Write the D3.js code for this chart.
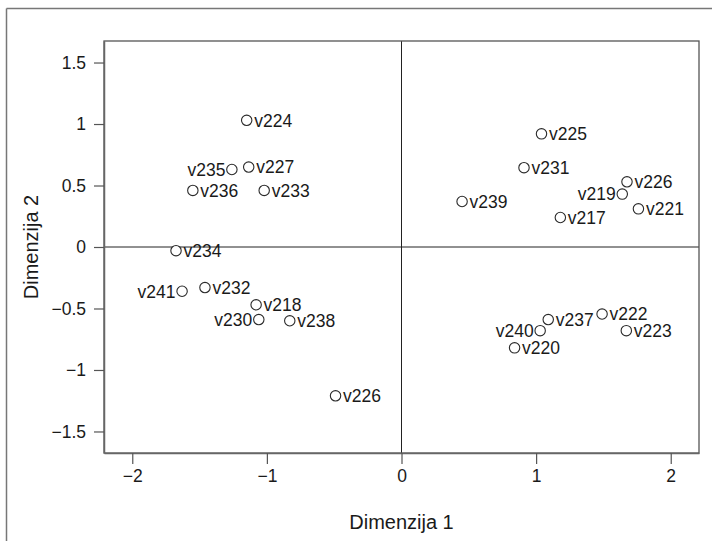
<!DOCTYPE html>
<html>
<head>
<meta charset="utf-8">
<script src="https://cdnjs.cloudflare.com/ajax/libs/d3/7.8.5/d3.min.js"></script>
<style>
  html, body { margin: 0; padding: 0; background: #fff; }
  svg { display: block; font-family: "Liberation Sans", Arial, Helvetica, sans-serif; }
</style>
</head>
<body>
<svg id="chart" width="712" height="541"></svg>
<script>
// Data
const labels = ["v224","v235","v227","v236","v233","v234","v241","v232","v218","v230","v238","v226",
                "v225","v231","v239","v219","v226","v221","v217","v240","v237","v220","v222","v223"];
const dim1 = [-1.15,-1.26,-1.135,-1.55,-1.02,-1.675,-1.63,-1.46,-1.08,-1.06,-0.83,-0.49,
              1.04,0.91,0.45,1.64,1.675,1.76,1.18,1.03,1.09,0.84,1.49,1.67];
const dim2 = [1.03,0.63,0.65,0.46,0.46,-0.03,-0.36,-0.33,-0.47,-0.59,-0.60,-1.21,
              0.92,0.645,0.37,0.43,0.53,0.31,0.24,-0.68,-0.59,-0.82,-0.545,-0.68];
// label side: "L" = left of point, "R" = right of point
const labelSide = ["R","L","R","R","R","R","L","R","R","L","R","R",
                   "R","R","R","L","R","R","R","L","R","R","R","R"];
const xTicks = [-2,-1,0,1,2];
const yTicks = [-1.5,-1,-0.5,0,0.5,1,1.5];
const xTitle = "Dimenzija 1";
const yTitle = "Dimenzija 2";

const svg = d3.select("#chart");
const W = 712, H = 541;
const box = {left: 104, right: 699, top: 41, bottom: 453};

const x = d3.scaleLinear().domain([-2.21, 2.21]).range([box.left, box.right]);
const y = d3.scaleLinear().domain([-1.675, 1.675]).range([box.bottom, box.top]);

const fmt = v => (v < 0 ? "\u2212" : "") + String(Math.abs(v));

// outer frame (top and left edges visible)
svg.append("line").attr("x1", 6.5).attr("x2", W).attr("y1", 8.5).attr("y2", 8.5)
  .attr("stroke", "#777").attr("stroke-width", 1.5);
svg.append("line").attr("x1", 6.5).attr("x2", 6.5).attr("y1", 8.5).attr("y2", H)
  .attr("stroke", "#777").attr("stroke-width", 1.5);

// zero reference lines
svg.append("line").attr("x1", x(0)).attr("x2", x(0)).attr("y1", box.top).attr("y2", box.bottom)
  .attr("stroke", "#222").attr("stroke-width", 1);
svg.append("line").attr("x1", box.left).attr("x2", box.right).attr("y1", y(0)).attr("y2", y(0))
  .attr("stroke", "#222").attr("stroke-width", 1);

// plot box
svg.append("rect").attr("x", box.left).attr("y", box.top)
  .attr("width", box.right - box.left).attr("height", box.bottom - box.top)
  .attr("fill", "none").attr("stroke", "#555").attr("stroke-width", 1.3);

// axes
const xAxis = d3.axisBottom(x).tickValues(xTicks).tickFormat(fmt).tickSizeInner(11).tickSizeOuter(0).tickPadding(6);
const yAxis = d3.axisLeft(y).tickValues(yTicks).tickFormat(fmt).tickSizeInner(10).tickSizeOuter(0).tickPadding(8);

const gx = svg.append("g").attr("transform", `translate(0,${box.bottom})`).call(xAxis);
const gy = svg.append("g").attr("transform", `translate(${box.left},0)`).call(yAxis);
[gx, gy].forEach(g => {
  g.select(".domain").attr("stroke", "#666").attr("stroke-width", 1.5);
  g.selectAll(".tick line").attr("stroke", "#555").attr("stroke-width", 1.2);
  g.selectAll(".tick text").attr("fill", "#1a1a1a").style("font-size", "17.5px")
    .style("font-family", "'Liberation Sans', Arial, sans-serif");
});

// axis titles
svg.append("text").attr("x", x(0)).attr("y", 529).attr("text-anchor", "middle")
  .attr("fill", "#1a1a1a").style("font-size", "20px").text(xTitle);
svg.append("text").attr("transform", `translate(38,${y(0)}) rotate(-90)`).attr("text-anchor", "middle")
  .attr("fill", "#1a1a1a").style("font-size", "20px").text(yTitle);

// points
const pts = labels.map((l, i) => ({label: l, d1: dim1[i], d2: dim2[i], side: labelSide[i]}));
svg.append("g").selectAll("circle").data(pts).join("circle")
  .attr("cx", d => x(d.d1)).attr("cy", d => y(d.d2)).attr("r", 5.2)
  .attr("fill", "#fff").attr("stroke", "#2a2a2a").attr("stroke-width", 1.1);

svg.append("g").selectAll("text").data(pts).join("text")
  .attr("x", d => d.side === "L" ? x(d.d1) - 6.5 : x(d.d1) + 7.5)
  .attr("y", d => y(d.d2)).attr("dy", "0.36em")
  .attr("text-anchor", d => d.side === "L" ? "end" : "start")
  .attr("fill", "#1a1a1a").style("font-size", "17.5px").text(d => d.label);
</script>
</body>
</html>
